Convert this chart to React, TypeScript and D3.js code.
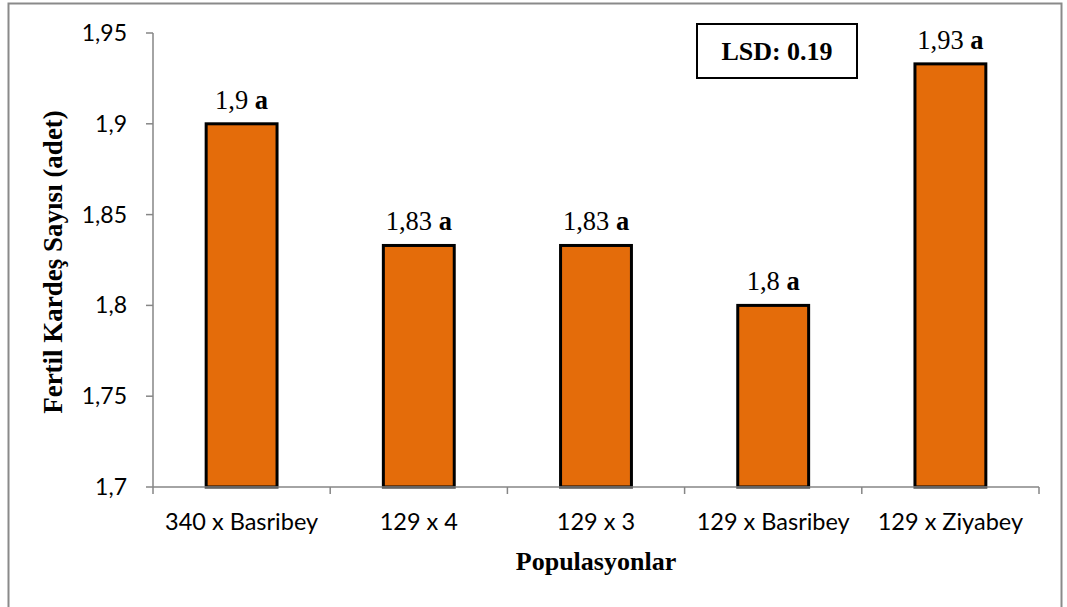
import React from "react";
import * as d3 from "d3";

const categories = ["340 x Basribey", "129 x 4", "129 x 3", "129 x Basribey", "129 x Ziyabey"];
const values = [1.9, 1.833, 1.833, 1.8, 1.933];
const valueLabels = ["1,9", "1,83", "1,83", "1,8", "1,93"];
const letters = ["a", "a", "a", "a", "a"];
const yTicks = [1.7, 1.75, 1.8, 1.85, 1.9, 1.95];
const yTickLabels = ["1,7", "1,75", "1,8", "1,85", "1,9", "1,95"];
const lsdText = "LSD: 0.19";

const W = 1067;
const H = 607;
const left = 153;
const right = 1039;
const top = 33;
const bottom = 487;
const axisColor = "#868686";
const barColor = "#E46C0A";
const serif = "'Liberation Serif', 'Times New Roman', serif";
const sans = "Lato, 'Noto Sans', sans-serif";

export default function App() {
  const x = d3.scaleBand<string>().domain(categories).range([left, right]).paddingInner(0.6).paddingOuter(0.3);
  const y = d3.scaleLinear().domain([1.7, 1.95]).range([bottom, top]);
  const step = x.step();
  const boundaries = d3.range(categories.length + 1).map((i) => left + i * step);

  return (
    <svg width={W} height={H} style={{ position: "absolute", left: 0, top: 0, background: "#fff" }}>
      <rect x={8.5} y={3.5} width={1053} height={620} fill="#fff" stroke="#8a8a8a" strokeWidth={2} />
      {/* y axis */}
      <line x1={left} x2={left} y1={top} y2={bottom} stroke={axisColor} strokeWidth={1.5} />
      {yTicks.map((t, i) => (
        <g key={t}>
          <line x1={left - 7} x2={left} y1={y(t)} y2={y(t)} stroke={axisColor} strokeWidth={1.5} />
          <text x={127} y={y(t)} dy="0.35em" textAnchor="end" fontFamily={sans} fontSize={23} fill="#000">
            {yTickLabels[i]}
          </text>
        </g>
      ))}
      {/* bars */}
      {categories.map((c, i) => (
        <g key={c}>
          <rect
            x={x(c)!}
            y={y(values[i])}
            width={x.bandwidth()}
            height={bottom - y(values[i])}
            fill={barColor}
            stroke="#000"
            strokeWidth={3}
          />
          <text
            x={x(c)! + x.bandwidth() / 2}
            y={y(values[i]) - 15}
            textAnchor="middle"
            fontFamily={serif}
            fontSize={26.5}
            fill="#000"
            style={{ whiteSpace: "pre" }}
          >
            {valueLabels[i] + " "}
            <tspan fontWeight="bold">{letters[i]}</tspan>
          </text>
          <text
            x={x(c)! + x.bandwidth() / 2}
            y={530}
            textAnchor="middle"
            fontFamily={sans}
            fontSize={23.5}
            fill="#000"
          >
            {c}
          </text>
        </g>
      ))}
      {/* x axis */}
      <line x1={left} x2={right} y1={bottom} y2={bottom} stroke={axisColor} strokeWidth={1.5} />
      {boundaries.map((b, i) => (
        <line key={i} x1={b} x2={b} y1={bottom} y2={bottom + 7} stroke={axisColor} strokeWidth={1.5} />
      ))}
      {/* titles */}
      <text x={596} y={570} textAnchor="middle" fontFamily={serif} fontWeight="bold" fontSize={26} fill="#000">
        Populasyonlar
      </text>
      <text
        transform={`translate(62, 262) rotate(-90)`}
        textAnchor="middle"
        fontFamily={serif}
        fontWeight="bold"
        fontSize={27}
        fill="#000"
      >
        Fertil Kardeş Sayısı (adet)
      </text>
      {/* LSD box */}
      <rect x={697} y={24} width={160} height={54} fill="#fff" stroke="#000" strokeWidth={2} />
      <text x={777} y={60} textAnchor="middle" fontFamily={serif} fontWeight="bold" fontSize={26} fill="#000">
        {lsdText}
      </text>
    </svg>
  );
}
